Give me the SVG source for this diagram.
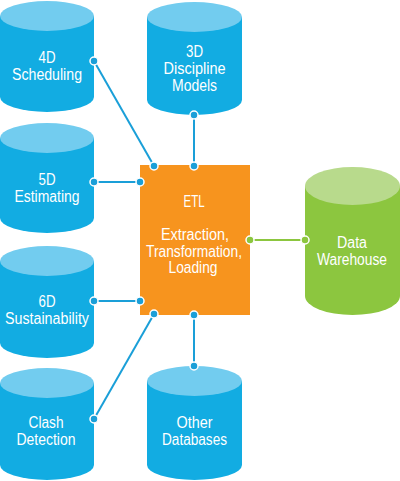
<svg xmlns="http://www.w3.org/2000/svg" width="400" height="481" viewBox="0 0 400 481">
<style>
.body{fill:#12ACE2}
.top{fill:#72CCEF}
.gbody{fill:#8CC63F}
.gtop{fill:#B8DA8C}
.lbl{font-family:"Liberation Sans",Arial,sans-serif;font-size:16px;fill:#FFFFFF;text-anchor:middle}
.ln{stroke:#1A9FD8;stroke-width:2;fill:none}
.gln{stroke:#8CC63F;stroke-width:2;fill:none}
.dot{fill:#1A9FD8;stroke:#FFFFFF;stroke-width:1.5}
.gdot{fill:#8CC63F;stroke:#FFFFFF;stroke-width:1.5}
</style>
<rect width="400" height="481" fill="#FFFFFF"/>
<g id="n4d">
<path class="body" d="M0,16 L0,97 A47,15 0 0 0 94,97 L94,16 Z"/>
<ellipse class="top" cx="47" cy="16" rx="47" ry="15"/>
<text class="lbl" x="47" y="63" textLength="17" lengthAdjust="spacingAndGlyphs">4D</text>
<text class="lbl" x="47" y="80" textLength="70" lengthAdjust="spacingAndGlyphs">Scheduling</text>
</g>
<g id="n3d">
<path class="body" d="M147,17 L147,100 A47.5,15 0 0 0 242,100 L242,17 Z"/>
<ellipse class="top" cx="194.5" cy="17" rx="47.5" ry="15"/>
<text class="lbl" x="194.5" y="57" textLength="17" lengthAdjust="spacingAndGlyphs">3D</text>
<text class="lbl" x="194.5" y="74" textLength="62" lengthAdjust="spacingAndGlyphs">Discipline</text>
<text class="lbl" x="194.5" y="91" textLength="45" lengthAdjust="spacingAndGlyphs">Models</text>
</g>
<g id="n5d">
<path class="body" d="M0,138 L0,218 A47,15 0 0 0 94,218 L94,138 Z"/>
<ellipse class="top" cx="47" cy="138" rx="47" ry="15"/>
<text class="lbl" x="47" y="185" textLength="17" lengthAdjust="spacingAndGlyphs">5D</text>
<text class="lbl" x="47" y="202" textLength="65" lengthAdjust="spacingAndGlyphs">Estimating</text>
</g>
<g id="n6d">
<path class="body" d="M0,261 L0,343 A47,15 0 0 0 94,343 L94,261 Z"/>
<ellipse class="top" cx="47" cy="261" rx="47" ry="15"/>
<text class="lbl" x="47" y="307" textLength="17" lengthAdjust="spacingAndGlyphs">6D</text>
<text class="lbl" x="47" y="324" textLength="84" lengthAdjust="spacingAndGlyphs">Sustainability</text>
</g>
<g id="nclash">
<path class="body" d="M0,383 L0,465 A47,15 0 0 0 94,465 L94,383 Z"/>
<ellipse class="top" cx="47" cy="383" rx="47" ry="15"/>
<text class="lbl" x="46" y="428" textLength="35" lengthAdjust="spacingAndGlyphs">Clash</text>
<text class="lbl" x="46" y="445" textLength="59" lengthAdjust="spacingAndGlyphs">Detection</text>
</g>
<g id="nother">
<path class="body" d="M147,381 L147,465 A47.5,15 0 0 0 242,465 L242,381 Z"/>
<ellipse class="top" cx="194.5" cy="381" rx="47.5" ry="15"/>
<text class="lbl" x="194.5" y="428" textLength="36" lengthAdjust="spacingAndGlyphs">Other</text>
<text class="lbl" x="194.5" y="445" textLength="65" lengthAdjust="spacingAndGlyphs">Databases</text>
</g>
<g id="ndw">
<path class="gbody" d="M305,186 L305,296 A47.5,19 0 0 0 400,296 L400,186 Z"/>
<ellipse class="gtop" cx="352.5" cy="186" rx="47.5" ry="19"/>
<text class="lbl" x="352" y="248" textLength="30" lengthAdjust="spacingAndGlyphs">Data</text>
<text class="lbl" x="352" y="265" textLength="70" lengthAdjust="spacingAndGlyphs">Warehouse</text>
</g>
<g id="netl">
<rect x="140" y="165" width="110" height="150" fill="#F7941E"/>
<text class="lbl" x="194" y="207" textLength="21" lengthAdjust="spacingAndGlyphs">ETL</text>
<text class="lbl" x="195" y="240" textLength="68" lengthAdjust="spacingAndGlyphs">Extraction,</text>
<text class="lbl" x="194" y="257" textLength="96" lengthAdjust="spacingAndGlyphs">Transformation,</text>
<text class="lbl" x="193" y="273" textLength="49" lengthAdjust="spacingAndGlyphs">Loading</text>
</g>
<g id="connectors">
<line class="ln" x1="94" y1="61" x2="154" y2="166"/>
<line class="ln" x1="194" y1="115" x2="194" y2="166"/>
<line class="ln" x1="94" y1="182" x2="140" y2="182"/>
<line class="ln" x1="94" y1="301" x2="140" y2="301"/>
<line class="ln" x1="94" y1="419" x2="154" y2="314"/>
<line class="ln" x1="194" y1="315" x2="194" y2="366"/>
<line class="gln" x1="250" y1="240" x2="305" y2="240"/>
<circle class="dot" cx="94" cy="61" r="4"/>
<circle class="dot" cx="154" cy="166" r="4"/>
<circle class="dot" cx="194" cy="115" r="4"/>
<circle class="dot" cx="194" cy="166" r="4"/>
<circle class="dot" cx="94" cy="182" r="4"/>
<circle class="dot" cx="140" cy="182" r="4"/>
<circle class="dot" cx="94" cy="301" r="4"/>
<circle class="dot" cx="140" cy="301" r="4"/>
<circle class="dot" cx="94" cy="419" r="4"/>
<circle class="dot" cx="154" cy="314" r="4"/>
<circle class="dot" cx="194" cy="315" r="4"/>
<circle class="dot" cx="194" cy="366" r="4"/>
<circle class="gdot" cx="250" cy="240" r="4"/>
<circle class="gdot" cx="305" cy="240" r="4"/>
</g>
</svg>
